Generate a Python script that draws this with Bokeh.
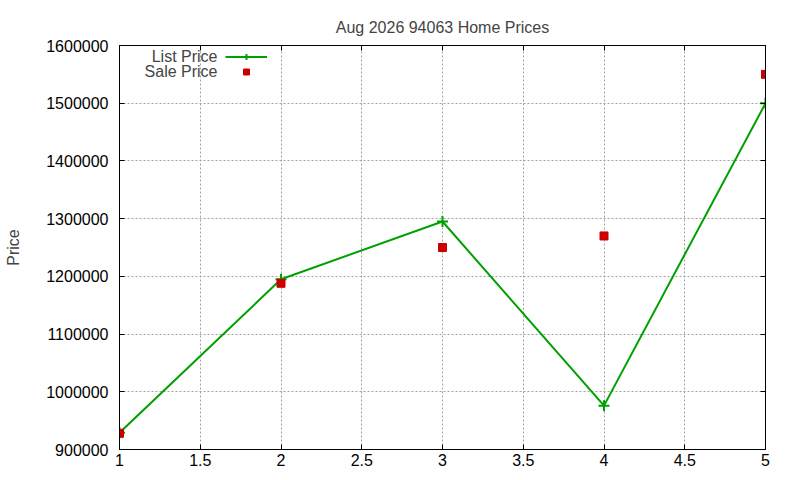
from bokeh.plotting import figure
from bokeh.models import (Range1d, FixedTicker, LinearAxis, Legend, LegendItem,
                          Label, BasicTickFormatter)
from bokeh.embed import file_html
from bokeh.resources import INLINE

# data
months = [1, 2, 3, 4, 5]
list_price = [929000, 1195000, 1295000, 976000, 1500000]
sale_price = [928000, 1188000, 1250000, 1270000, 1550000]

x_ticks = [1, 1.5, 2, 2.5, 3, 3.5, 4, 4.5, 5]
x_tick_labels = ["1", "1.5", "2", "2.5", "3", "3.5", "4", "4.5", "5"]
y_ticks = [900000, 1000000, 1100000, 1200000, 1300000, 1400000, 1500000, 1600000]

FONT = "Liberation Sans"
FS = "16px"
GREEN = "#00a000"
RED = "#cc0000"

p = figure(width=800, height=480, output_backend="svg", toolbar_location=None,
           x_range=Range1d(1, 5), y_range=Range1d(900000, 1600000),
           min_border_left=119, min_border_right=35, min_border_top=45,
           min_border_bottom=31, x_axis_location=None, y_axis_location=None)

p.title.text = "Aug 2026 94063 Home Prices"
p.title.align = "center"
p.title.text_font = FONT
p.title.text_font_size = FS
p.title.text_font_style = "normal"
p.title.text_line_height = 0.6
p.title.standoff = 19

p.outline_line_color = "black"
p.outline_line_width = 1
p.background_fill_color = "white"


def make_axis(ticks, labels=True, **kw):
    ax = LinearAxis(ticker=FixedTicker(ticks=ticks), **kw)
    ax.major_tick_in = 5
    ax.major_tick_out = 0
    ax.minor_tick_line_color = None
    ax.axis_line_color = "black"
    ax.major_tick_line_color = "black"
    ax.major_label_text_font = FONT
    if labels:
        ax.major_label_text_font_size = FS
        ax.major_label_text_color = "black"
    else:
        # mirrored gnuplot-style ticks, no labels drawn
        ax.major_label_text_font_size = "1px"
        ax.major_label_text_color = None
        ax.major_label_standoff = 0
    return ax


xb = make_axis(x_ticks)
xb.major_label_overrides = dict(zip(x_ticks, x_tick_labels))
xb.major_label_standoff = 4
p.add_layout(xb, "below")

yl = make_axis(y_ticks, formatter=BasicTickFormatter(use_scientific=False))
yl.major_label_standoff = 11
yl.axis_label = "Price"
yl.axis_label_text_font = FONT
yl.axis_label_text_font_size = FS
yl.axis_label_text_font_style = "normal"
yl.axis_label_standoff = 21
p.add_layout(yl, "left")

p.add_layout(make_axis(x_ticks, labels=False), "above")
p.add_layout(make_axis(y_ticks, labels=False), "right")

for g in (p.xgrid, p.ygrid):
    g.grid_line_color = "#a0a0a0"
    g.grid_line_dash = "2 2"
    g.grid_line_width = 1
p.xgrid.ticker = FixedTicker(ticks=x_ticks)
p.ygrid.ticker = FixedTicker(ticks=y_ticks)

ln = p.line(months, list_price, line_color=GREEN, line_width=2)
cr = p.scatter(months, list_price, marker="cross", size=11, line_color=GREEN,
               line_width=2)
sq = p.scatter(months, sale_price, marker="square", size=8, fill_color=RED,
               line_color=RED)

legend = Legend(items=[LegendItem(label=" ", renderers=[ln, cr]),
                       LegendItem(label=" ", renderers=[sq])],
                location=(106, 370), padding=0, margin=0, spacing=0,
                label_standoff=0, label_width=0, label_height=15,
                glyph_width=42, glyph_height=15, border_line_color=None,
                background_fill_alpha=0, label_text_font_size="1px",
                label_text_color=None)
p.add_layout(legend, "center")

for txt, yy in (("List Price", 393), ("Sale Price", 378)):
    p.add_layout(Label(x=98, y=yy, x_units="screen", y_units="screen", text=txt,
                       text_align="right", text_baseline="middle",
                       text_font=FONT, text_font_size=FS))

open("out.html", "w").write(file_html(p, INLINE))
